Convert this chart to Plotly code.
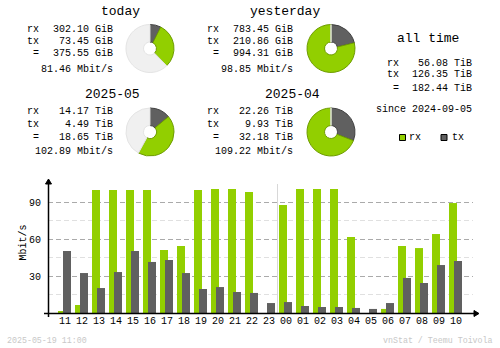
import plotly.graph_objects as go

W, H = 500, 348

# ---------------- data ----------------
hours = ["11", "12", "13", "14", "15", "16", "17", "18", "19", "20", "21", "22",
         "23", "00", "01", "02", "03", "04", "05", "06", "07", "08", "09", "10"]
rx_mbit = [1, 6.5, 100, 100, 100, 100, 51.2, 54.5, 100, 100.8, 100.8, 98.4,
           0, 87.8, 100.8, 100.8, 100.8, 61.8, 0, 3.3, 54.5, 52.8, 64.2, 89.4]
tx_mbit = [50.4, 32.5, 20.3, 33.3, 50.4, 41.5, 43.1, 32.5, 19.5, 21.1, 17.1, 16.3,
           8.1, 8.9, 5.7, 4.9, 4.9, 4.1, 3.3, 8.1, 28.5, 24.4, 39.0, 42.3]
y_ticks = [30, 60, 90]
y_minor = [15, 45, 75]

# rx, tx, total, rate
today = [302.10, 73.45, 375.55, 81.46]        # GiB
yesterday = [783.45, 210.86, 994.31, 98.85]   # GiB
may = [14.17, 4.49, 18.65, 102.89]            # TiB
april = [22.26, 9.93, 32.18, 109.22]          # TiB
all_time = [56.08, 126.35, 182.44]            # TiB
since = "2024-09-05"
stamp = "2025-05-19 11:00"

RX = "#92CF00"
TX = "#606060"
RXB = "#6E9C00"
TXB = "#404040"
BG = "#F0F0F0"
MONO = "Liberation Mono"


def X(px):
    return px / W


def Y(py):
    return 1 - py / H


fig = go.Figure()

# ---------------- bars ----------------
xs = list(range(len(hours)))
ppu = 17.0  # pixels per hour slot
fig.add_trace(go.Bar(x=xs, y=rx_mbit, marker=dict(color=RX, line=dict(width=0)),
                     offset=-7 / ppu, width=8 / ppu, hoverinfo="skip"))
fig.add_trace(go.Bar(x=xs, y=tx_mbit, marker=dict(color=TX, line=dict(width=0)),
                     offset=-2 / ppu, width=8 / ppu, hoverinfo="skip"))

left, right, top, bottom = 48, 473, 180, 313
x0_px = 65
xr = [(left - x0_px) / ppu, (right - x0_px) / ppu]
ymax = (bottom - top) / 1.23

# ---------------- pies ----------------
def pie(cx, cy, d, total_max):
    rest = max(total_max - d[2], 0)
    r = 24
    fig.add_trace(go.Pie(
        values=[d[1], d[0], rest], sort=False, direction="clockwise", rotation=0,
        hole=0.27, textinfo="none", hoverinfo="skip", showlegend=False,
        marker=dict(colors=[TX, RX, BG], line=dict(color=[TXB, RXB, "#E4E4E4"], width=1)),
        domain=dict(x=[X(cx - r), X(cx + r)], y=[Y(cy + r), Y(cy - r)])))


day_max = max(today[2], yesterday[2])
mon_max = max(may[2], april[2])
pie(150, 48.5, today, day_max)
pie(331, 48.5, yesterday, day_max)
pie(150, 132, may, mon_max)
pie(331, 132, april, mon_max)

ann = []


def txt(x, y, s, size=10, anchor="left", color="black", angle=0):
    ann.append(dict(x=X(x), y=Y(y), xref="paper", yref="paper", text=s,
                    showarrow=False, xanchor=anchor, yanchor="middle",
                    textangle=angle,
                    font=dict(family=MONO, size=size, color=color)))


def block(title, title_right, lx, rx_right, ys, d, unit):
    txt(title_right, ys[0], title, size=13, anchor="right")
    txt(lx, ys[1], "rx")
    txt(lx, ys[2], "tx")
    txt(lx + 6, ys[3], "=")
    txt(rx_right, ys[1], f"{d[0]:.2f} {unit}", anchor="right")
    txt(rx_right, ys[2], f"{d[1]:.2f} {unit}", anchor="right")
    txt(rx_right, ys[3], f"{d[2]:.2f} {unit}", anchor="right")
    txt(rx_right, ys[4], f"{d[3]:.2f} Mbit/s", anchor="right")


ys_top = [11, 29, 41.5, 54, 69]
ys_mid = [94, 111.7, 124.3, 137.3, 151.7]
block("today", 142, 25, 115, ys_top, today, "GiB")
block("yesterday", 322, 205, 295, ys_top, yesterday, "GiB")
block("2025-05", 142, 25, 115, ys_mid, may, "TiB")
block("2025-04", 322, 205, 295, ys_mid, april, "TiB")

# all time
txt(428, 39, "all time", size=13, anchor="center")
txt(385, 63.3, "rx")
txt(385, 74.3, "tx")
txt(391, 88.3, "=")
txt(474, 63.3, f"{all_time[0]:.2f} TiB", anchor="right")
txt(474, 74.3, f"{all_time[1]:.2f} TiB", anchor="right")
txt(474, 88.3, f"{all_time[2]:.2f} TiB", anchor="right")
txt(474, 109.3, f"since {since}", anchor="right")
txt(407, 137.3, "rx")
txt(449.5, 137.3, "tx")

# y title & footer
txt(15, 243, "Mbit/s", angle=-90)
txt(5, 340, stamp, size=8.3, color="#C8C8C8")
txt(495, 340, "vnStat / Teemu Toivola", size=8.3, anchor="right", color="#C8C8C8")

shapes = [
    dict(type="rect", xref="paper", yref="paper", x0=X(399.5), x1=X(405.5), y0=Y(140.5), y1=Y(134.5),
         fillcolor=RX, line=dict(color="black", width=1)),
    dict(type="rect", xref="paper", yref="paper", x0=X(441), x1=X(447), y0=Y(140.5), y1=Y(134.5),
         fillcolor=TX, line=dict(color="black", width=1)),
    dict(type="line", xref="x", yref="paper", x0=hours.index("00") - 0.5, x1=hours.index("00") - 0.5,
         y0=Y(bottom), y1=Y(184), line=dict(color="#D8D8D8", width=1), layer="below"),
    dict(type="line", xref="paper", yref="paper", x0=X(44), x1=X(477), y0=Y(313.5), y1=Y(313.5),
         line=dict(color="black", width=1.5)),
    dict(type="line", xref="paper", yref="paper", x0=X(48.5), x1=X(48.5), y0=Y(317), y1=Y(182),
         line=dict(color="black", width=1.5)),
    dict(type="path", xref="paper", yref="paper",
         path=f"M {X(45.5)} {Y(184)} L {X(51.5)} {Y(184)} L {X(48.5)} {Y(179)} Z",
         fillcolor="black", line=dict(color="black", width=1)),
    dict(type="path", xref="paper", yref="paper",
         path=f"M {X(474)} {Y(310.5)} L {X(474)} {Y(316.5)} L {X(479)} {Y(313.5)} Z",
         fillcolor="black", line=dict(color="black", width=1)),
]

fig.update_layout(
    width=W, height=H, margin=dict(l=0, r=0, t=0, b=0),
    paper_bgcolor="white", plot_bgcolor="white",
    barmode="overlay", showlegend=False,
    annotations=ann, shapes=shapes,
    xaxis=dict(domain=[X(left), X(right)], range=xr, tickvals=xs, ticktext=hours,
               showgrid=False, zeroline=False, showline=False,
               ticks="", ticklen=0,
               tickfont=dict(family=MONO, size=10, color="black"), fixedrange=True),
    yaxis=dict(domain=[Y(bottom), Y(top)], range=[0, ymax], tickvals=y_ticks,
               showgrid=True, gridcolor="#AAAAAA", griddash="5px,3px", gridwidth=1,
               zeroline=False, showline=False,
               ticks="outside", ticklen=4, tickcolor="rgba(0,0,0,0)",
               tickfont=dict(family=MONO, size=10, color="black"),
               minor=dict(tickvals=y_minor, showgrid=True, gridcolor="#E0E0E0",
                          griddash="5px,3px", ticks=""),
               fixedrange=True),
)

fig.write_html("out.html")
